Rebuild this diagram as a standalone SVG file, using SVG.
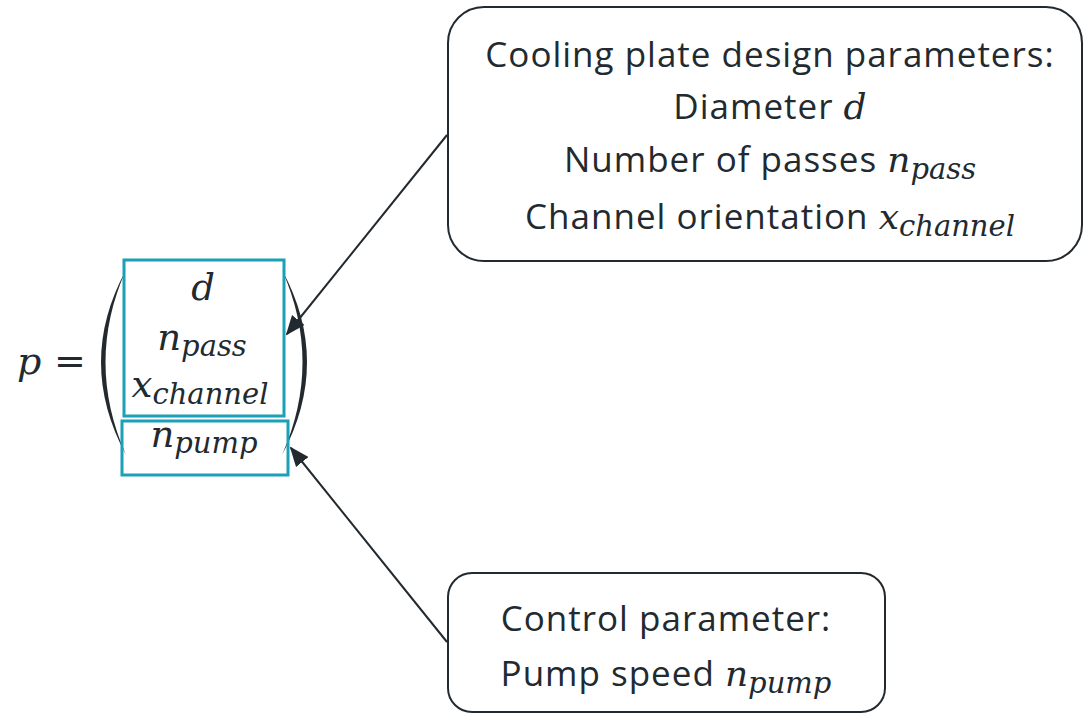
<svg xmlns="http://www.w3.org/2000/svg" width="1084" height="714" viewBox="0 0 1084 714">
<style>
.t{font-family:"Open Sans","Liberation Sans",sans-serif;font-size:35px;letter-spacing:1px;fill:#222a30;text-anchor:middle}
.m{font-family:"DejaVu Serif","Liberation Serif",serif;font-style:italic;fill:#222a30;letter-spacing:0}
.box{fill:#fff;stroke:#222a30;stroke-width:2}
.teal{fill:none;stroke:#1aa0b8;stroke-width:3}
.ln{stroke:#222a30;stroke-width:2;fill:none}
.par{fill:#222a30}
</style>
<defs>
<marker id="ah" viewBox="0 0 10 10" refX="9" refY="5" markerWidth="20" markerHeight="20" markerUnits="userSpaceOnUse" orient="auto">
<path d="M0,1 L10,5 L0,9 z" fill="#222a30"/>
</marker>
</defs>
<rect width="1084" height="714" fill="#fff"/>
<g id="equation">
<text x="17" y="374" class="m" font-size="38">p</text>
<text x="54" y="374" font-family="DejaVu Serif,serif" font-size="38" fill="#222a30">=</text>
<path d="M126,270 Q76,362 126,455 Q85,362 126,270 z" class="par"/>
<path d="M282,270 Q332,362 282,455 Q323,362 282,270 z" class="par"/>
<rect x="124" y="260" width="160" height="156" class="teal"/>
<rect x="122" y="421" width="166" height="54" class="teal"/>
<text x="203" y="300" class="m" font-size="37" text-anchor="middle">d</text>
<text x="202" y="350" class="m" font-size="37" text-anchor="middle">n<tspan font-size="29" dy="6">pass</tspan></text>
<text x="200" y="397" class="m" font-size="37" text-anchor="middle">x<tspan font-size="29" dy="7">channel</tspan></text>
<text x="204" y="447" class="m" font-size="37" text-anchor="middle">n<tspan font-size="29" dy="6">pump</tspan></text>
</g>
<g id="connectors">
<line x1="447" y1="135" x2="287" y2="334" class="ln" marker-end="url(#ah)"/>
<line x1="447" y1="642" x2="291" y2="448" class="ln" marker-end="url(#ah)"/>
</g>
<g id="design-box">
<rect x="448" y="7" width="634" height="254" rx="36" class="box"/>
<text x="770" y="67" class="t">Cooling plate design parameters:</text>
<text x="770" y="119" class="t">Diameter <tspan class="m" font-size="36">d</tspan></text>
<text x="770" y="172" class="t">Number of passes <tspan class="m" font-size="36">n</tspan><tspan class="m" font-size="29" dy="7">pass</tspan></text>
<text x="770" y="229" class="t">Channel orientation <tspan class="m" font-size="36">x</tspan><tspan class="m" font-size="29" dy="7">channel</tspan></text>
</g>
<g id="control-box">
<rect x="448" y="573" width="437" height="139" rx="24" class="box"/>
<text x="666" y="631" class="t">Control parameter:</text>
<text x="666" y="686" class="t">Pump speed <tspan class="m" font-size="36">n</tspan><tspan class="m" font-size="29" dy="7">pump</tspan></text>
</g>
</svg>
